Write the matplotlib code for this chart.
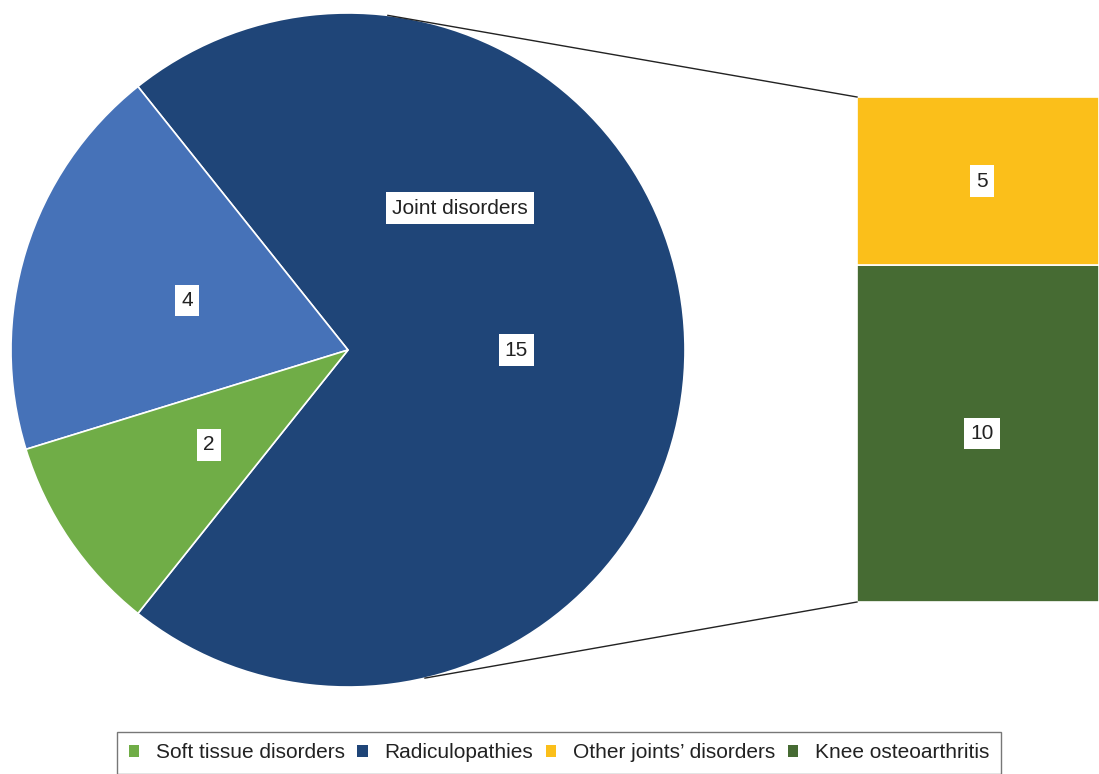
import matplotlib.pyplot as plt
from matplotlib.patches import Patch
import numpy as np

plt.rcParams['font.family'] = ['Liberation Sans', 'DejaVu Sans']

# main pie
pie_labels = ['Joint disorders', 'Radiculopathies', 'Soft tissue disorders']
pie_values = [15, 4, 2]
pie_colors = ['#1f4578', '#4672b8', '#70ad47']

# breakdown of joint disorders
bar_labels = ['Knee osteoarthritis', "Other joints' disorders"]
bar_values = [10, 5]
bar_colors = ['#466b33', '#fbbf1a']

legend_labels = ['Soft tissue disorders', 'Radiculopathies', "Other joints’ disorders", 'Knee osteoarthritis']
legend_colors = ['#70ad47', '#1f4578', '#fbbf1a', '#466b33']

W, H = 1099, 774
fig = plt.figure(figsize=(W / 100, H / 100), dpi=100)
ax = fig.add_axes([0, 0, 1, 1])

cx, cy, r = 348, H - 350, 337
start = -360 * pie_values[0] / sum(pie_values) / 2
wedges, _ = ax.pie(pie_values, colors=pie_colors, startangle=start, counterclock=True,
                   center=(cx, cy), radius=r, frame=True,
                   wedgeprops=dict(edgecolor='white', linewidth=1.2))
ax.set_xlim(0, W)
ax.set_ylim(0, H)
ax.set_aspect('equal')
ax.axis('off')

box = dict(boxstyle='square,pad=0.3', fc='white', ec='none')
tkw = dict(ha='center', va='center', fontsize=15, color='#222222', bbox=box)

# value labels on slices
for w, v in zip(wedges, pie_values):
    mid = np.deg2rad((w.theta1 + w.theta2) / 2)
    ax.text(cx + 0.5 * r * np.cos(mid), cy + 0.5 * r * np.sin(mid), str(v), **tkw)
ax.text(460, H - 208, pie_labels[0], **tkw)

# stacked bar for joint disorders
bx0, bw = 857, 242
btop, bbot = H - 97, H - 602
scale = (btop - bbot) / sum(bar_values)
bottom = bbot
for v, c in zip(bar_values, bar_colors):
    ax.bar(bx0, v * scale, width=bw, bottom=bottom, color=c, align='edge',
           edgecolor='white', linewidth=1.2)
    ax.text(bx0 + bw / 2 + 4, bottom + v * scale / 2, str(v), **tkw)
    bottom += v * scale

# connector lines
for ang, yb in [(83.2, btop), (-76.8, bbot)]:
    a = np.deg2rad(ang)
    ax.plot([cx + r * np.cos(a), bx0], [cy + r * np.sin(a), yb], color='#222222', lw=1)

handles = [Patch(facecolor=c, edgecolor='none') for c in legend_colors]
leg = fig.legend(handles, legend_labels, loc='upper center', bbox_to_anchor=(559 / W, 1 - 732 / H),
                 ncol=4, fontsize=15, frameon=True, fancybox=False, handlelength=0.5,
                 handleheight=0.5, handletextpad=0.8, columnspacing=0.6, borderpad=0.55,
                 borderaxespad=0)
leg.get_frame().set_edgecolor('#555555')
leg.get_frame().set_linewidth(1)
for t in leg.get_texts():
    t.set_color('#222222')

fig.savefig('out.png', dpi=100)
